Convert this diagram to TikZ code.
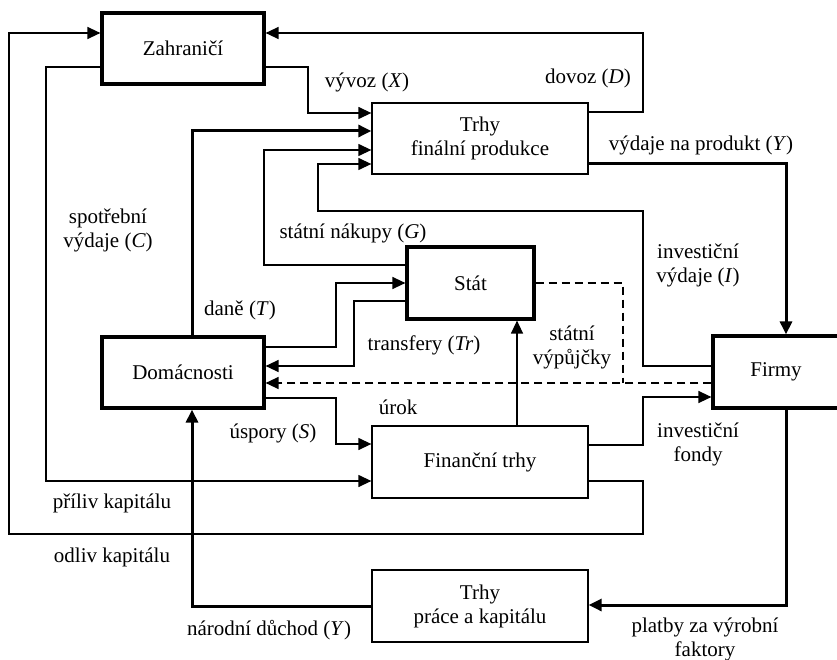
\documentclass[tikz,border=0pt]{standalone}
\usepackage{fontspec}
\setmainfont{Liberation Serif}
\usetikzlibrary{arrows.meta}
\begin{document}
\begin{tikzpicture}[x=1pt,y=-1pt,
  every node/.style={font=\fontsize{21}{24}\selectfont},
  boxthick/.style={draw, line width=3.2pt, inner sep=0pt, align=center},
  boxthin/.style={draw, line width=1.3pt, inner sep=0pt, align=center},
  lbl/.style={inner sep=0pt, align=center},
  tip/.style={-{Triangle[length=13pt,width=12pt]}},
  flow/.style={line width=1.3pt, tip},
  bigflow/.style={line width=3pt, tip},
  dsh/.style={line width=1.3pt, dash pattern=on 8pt off 5pt}]
\useasboundingbox (0,0) rectangle (837,660);
% boxes
\node[boxthick, minimum width=162pt, minimum height=71pt] (zah) at (183,48.5) {Zahraničí};
\node[boxthin, minimum width=216pt, minimum height=71pt] (tfp) at (480,138.5) {Trhy\\finální produkce};
\node[boxthick, minimum width=127pt, minimum height=72pt] (stat) at (470.5,283) {Stát};
\node[boxthick, minimum width=162pt, minimum height=71pt] (dom) at (183,372.5) {Domácnosti};
\node[boxthick, minimum width=126pt, minimum height=72pt] (firmy) at (776,372) {Firmy};
\node[boxthin, minimum width=216pt, minimum height=72pt] (fin) at (480,462) {Finanční trhy};
\node[boxthin, minimum width=216pt, minimum height=72pt] (tpk) at (480,606) {Trhy\\práce a kapitálu};
% odliv kapitalu
\draw[flow] (fin.east |- 0,481) -- (643,481) -- (643,534) -- (9,534) -- (9,33) -- (zah.west |- 0,33);
% priliv kapitalu
\draw[flow] (zah.west |- 0,67) -- (46,67) -- (46,481) -- (fin.west |- 0,481);
% vyvoz
\draw[flow] (zah.east |- 0,67) -- (308,67) -- (308,113) -- (tfp.west |- 0,113);
% dovoz
\draw[flow] (tfp.east |- 0,112) -- (643,112) -- (643,33) -- (zah.east |- 0,33);
% spotrebni vydaje
\draw[bigflow] (dom.north -| 192,0) -- (192,131) -- (tfp.west |- 0,131);
% statni nakupy
\draw[flow] (stat.west |- 0,265) -- (264,265) -- (264,150) -- (tfp.west |- 0,150);
% investicni vydaje
\draw[flow] (firmy.west |- 0,366) -- (643,366) -- (643,211) -- (318,211) -- (318,164) -- (tfp.west |- 0,164);
% vydaje na produkt
\draw[bigflow] (tfp.east |- 0,164) -- (786,164) -- (firmy.north -| 786,0);
% dane
\draw[flow] (dom.east |- 0,347) -- (336,347) -- (336,283) -- (stat.west |- 0,283);
% transfery
\draw[flow] (stat.west |- 0,301) -- (354,301) -- (354,366) -- (dom.east |- 0,366);
% dashed
\draw[dsh] (stat.east |- 0,283) -- (623,283) -- (623,383);
\draw[dsh, tip] (firmy.west |- 0,383) -- (dom.east |- 0,383);
% uspory
\draw[flow] (dom.east |- 0,398) -- (336,398) -- (336,444) -- (fin.west |- 0,444);
% fin -> stat
\draw[flow] (fin.north -| 517,0) -- (stat.south -| 517,0);
% investicni fondy
\draw[flow] (fin.east |- 0,445) -- (643,445) -- (643,397) -- (firmy.west |- 0,397);
% platby
\draw[bigflow] (firmy.south -| 786,0) -- (786,605) -- (tpk.east |- 0,605);
% narodni duchod
\draw[bigflow] (tpk.west |- 0,606) -- (192,606) -- (dom.south -| 192,0);
% labels
\node[lbl] (l1) at (367,82) {vývoz (\textit{X})};
\node[lbl] (l2) at (588,78) {dovoz (\textit{D})};
\node[lbl] (l3) at (701,145) {výdaje na produkt (\textit{Y})};
\node[lbl] (l4) at (108,230) {spotřební\\výdaje (\textit{C})};
\node[lbl] (l5) at (353,233) {státní nákupy (\textit{G})};
\node[lbl] (l6) at (240,310) {daně (\textit{T})};
\node[lbl] (l7) at (424,345) {transfery (\textit{Tr})};
\node[lbl] (l8) at (572,347) {státní\\výpůjčky};
\node[lbl] (l9) at (698,265) {investiční\\výdaje (\textit{I})};
\node[lbl] (l10) at (398,407) {úrok};
\node[lbl] (l11) at (273,433) {úspory (\textit{S})};
\node[lbl] (l12) at (698,444) {investiční\\fondy};
\node[lbl] (l13) at (112,503) {příliv kapitálu};
\node[lbl] (l14) at (112,557) {odliv kapitálu};
\node[lbl] (l15) at (269,630) {národní důchod (\textit{Y})};
\node[lbl] (l16) at (705,639) {platby za výrobní\\faktory};
\end{tikzpicture}
\end{document}
